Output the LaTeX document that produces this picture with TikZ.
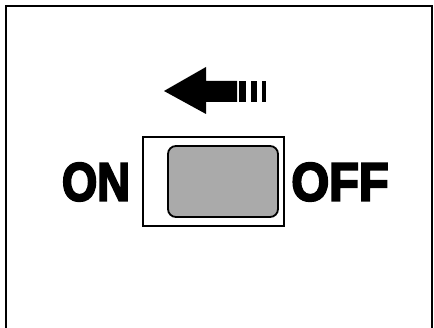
\documentclass[tikz,border=0pt]{standalone}
\usepackage{fontspec}
\setmainfont{Liberation Sans}
\newfontfamily\heavyfont[BoldFont={Liberation Sans Bold},BoldFeatures={FakeBold=4}]{Liberation Sans}
\usepackage{graphicx}
\usepackage{tikz}
\usetikzlibrary{positioning}
\definecolor{knobgray}{HTML}{AAAAAA}
\tikzset{
  frameline/.style={draw=black,line width=2.2pt},
  switchbody/.style={draw=black,line width=1.4pt,fill=white},
  switchknob/.style={draw=black,line width=1.8pt,fill=knobgray,rounded corners=8pt},
  marktext/.style={inner sep=0pt,font=\fontsize{54}{54}\selectfont\heavyfont\bfseries},
  arrowfill/.style={fill=black,draw=none}
}

\begin{document}
\begin{tikzpicture}[x=1pt,y=-1pt]
  \useasboundingbox (0,0) rectangle (434,328);
  % outer frame, open at the bottom
  \draw[frameline] (6,332) -- (6,6) -- (432,6) -- (432,332);
  % direction arrow
  \fill[arrowfill] (164,91) -- (206,67) -- (206,81) -- (237,81) -- (237,102) -- (206,102) -- (206,114) -- cycle;
  \fill[arrowfill] (239,81) rectangle (246,102);
  \fill[arrowfill] (251,81) rectangle (257,102);
  \fill[arrowfill] (262,81) rectangle (266,102);
  % switch
  \node[switchbody,minimum width=141pt,minimum height=89pt,inner sep=0pt] (body) at (213.5,181.5) {};
  \node[switchknob,minimum width=110pt,minimum height=71pt,inner sep=0pt] (knob) at (223,181.5) {};
  \node[marktext] (on) at (96,182) {\scalebox{0.84}[1]{ON}};
  \node[marktext] (off) at (340,182) {\scalebox{0.9}[1]{OFF}};
\end{tikzpicture}
\end{document}
